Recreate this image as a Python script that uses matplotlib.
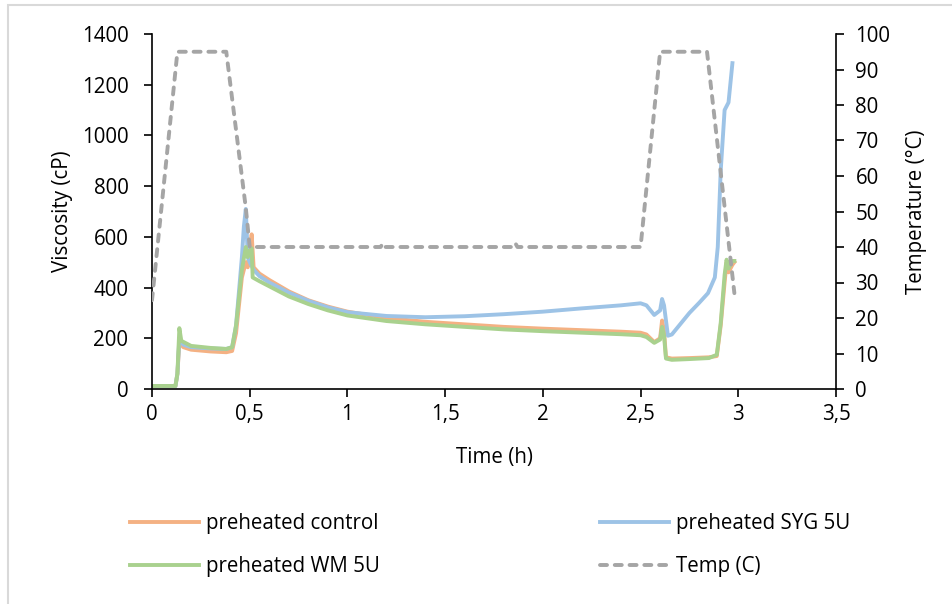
import matplotlib.pyplot as plt
from matplotlib.patches import Rectangle
from matplotlib.ticker import FuncFormatter, MultipleLocator

# viscosity profiles (cP) vs time (h)
t_control = [0, 0.12, 0.13, 0.14, 0.16, 0.2, 0.3, 0.38, 0.41, 0.43, 0.46, 0.48, 0.49, 0.50, 0.51,
             0.52, 0.55, 0.6, 0.7, 0.8, 0.9, 1.0, 1.2, 1.4, 1.6, 1.8, 2.0, 2.2, 2.4, 2.5, 2.53,
             2.57, 2.6, 2.61, 2.62, 2.63, 2.66, 2.75, 2.85, 2.89, 2.91, 2.93, 2.94, 2.95, 2.97, 2.98]
v_control = [12, 12, 60, 185, 165, 155, 148, 145, 150, 220, 440, 500, 480, 540, 610,
             480, 455, 430, 385, 350, 325, 305, 280, 265, 255, 245, 238, 232, 226, 222, 215,
             185, 200, 270, 230, 125, 120, 122, 125, 130, 250, 420, 500, 460, 490, 500]

t_syg = [0, 0.12, 0.13, 0.14, 0.16, 0.2, 0.3, 0.38, 0.41, 0.43, 0.46, 0.47, 0.48, 0.49, 0.50,
         0.52, 0.55, 0.6, 0.7, 0.8, 0.9, 1.0, 1.2, 1.4, 1.6, 1.8, 2.0, 2.2, 2.4, 2.5, 2.53,
         2.57, 2.6, 2.61, 2.62, 2.64, 2.66, 2.75, 2.8, 2.845, 2.88, 2.895, 2.91, 2.93, 2.95, 2.97]
v_syg = [12, 12, 60, 200, 175, 165, 160, 158, 165, 250, 520, 640, 710, 520, 500,
         470, 445, 420, 380, 348, 322, 303, 288, 283, 287, 295, 305, 318, 330, 338, 330,
         292, 310, 355, 330, 210, 215, 300, 340, 378, 440, 560, 860, 1100, 1130, 1285]

t_wm = [0, 0.12, 0.13, 0.14, 0.15, 0.2, 0.3, 0.38, 0.41, 0.43, 0.46, 0.48, 0.49, 0.50, 0.51,
        0.515, 0.55, 0.6, 0.7, 0.8, 0.9, 1.0, 1.2, 1.4, 1.6, 1.8, 2.0, 2.2, 2.4, 2.5, 2.53,
        2.57, 2.6, 2.61, 2.62, 2.63, 2.66, 2.75, 2.85, 2.89, 2.91, 2.93, 2.94, 2.95, 2.97, 2.98]
v_wm = [12, 12, 60, 240, 190, 170, 162, 158, 165, 250, 470, 560, 520, 545, 555,
        440, 425, 405, 365, 335, 310, 290, 268, 255, 245, 235, 228, 222, 216, 212, 205,
        182, 195, 245, 210, 120, 115, 118, 122, 135, 260, 450, 510, 475, 505, 505]

# temperature program (°C)
t_temp = [0, 0.13, 0.38, 0.48, 0.5, 1.17, 1.18, 1.19, 1.85, 1.86, 1.87, 2.5, 2.6, 2.84, 2.98]
v_temp = [25, 95, 95, 51, 40, 40, 41, 40, 40, 41, 40, 40, 95, 95, 27]

plt.rcParams['font.family'] = ['Open Sans', 'DejaVu Sans']
plt.rcParams['font.size'] = 14.8

fig = plt.figure(figsize=(9.52, 6.04), dpi=100)
ax = fig.add_axes([152 / 952, 1 - 389 / 604, (836 - 152) / 952, (389 - 34) / 604])
ax2 = ax.twinx()

# light frame around the chart area
fig.patches.append(Rectangle((8 / 952, -0.05), 1.1, 1 - 5 / 604 + 0.05,
                             transform=fig.transFigure, fill=False,
                             edgecolor='#d9d9d9', linewidth=1.5))

lw = 2.8
dash = (0, (1.8, 2.0))
l1, = ax.plot(t_control, v_control, color='#F4B183', lw=lw, label='preheated control')
l2, = ax.plot(t_syg, v_syg, color='#9DC3E6', lw=lw, label='preheated SYG 5U')
l3, = ax.plot(t_wm, v_wm, color='#A9D18E', lw=lw, label='preheated WM 5U')
l4, = ax2.plot(t_temp, v_temp, color='#A5A5A5', lw=lw, ls=dash,
               dash_capstyle='round', label='Temp (C)')

ax.set_xlim(0, 3.5)
ax.set_ylim(0, 1400)
ax2.set_ylim(0, 100)
ax.xaxis.set_major_locator(MultipleLocator(0.5))
ax.yaxis.set_major_locator(MultipleLocator(200))
ax2.yaxis.set_major_locator(MultipleLocator(10))
ax.xaxis.set_major_formatter(FuncFormatter(lambda x, p: ('%g' % x).replace('.', ',')))

for a in (ax, ax2):
    a.spines['top'].set_visible(False)
    for s in a.spines.values():
        s.set_linewidth(1.2)
ax.spines['right'].set_visible(False)
ax2.spines['left'].set_visible(False)
ax2.spines['bottom'].set_visible(False)

ax.tick_params(axis='y', direction='out', length=6, width=1.2, pad=11)
ax.tick_params(axis='x', direction='out', length=6, width=1.2, pad=5)
ax2.tick_params(axis='y', direction='out', length=6, width=1.2, pad=8)

ax.set_ylabel('Viscosity (cP)', labelpad=6)
ax2.set_ylabel('Temperature (°C)', labelpad=11)
ax.set_xlabel('Time (h)', labelpad=16)

leg_kw = dict(loc='center left', frameon=False, handlelength=3.35, handletextpad=0.35,
              labelspacing=1.05, borderpad=0, borderaxespad=0)
leg1 = fig.legend([l1, l3], ['preheated control', 'preheated WM 5U'],
                  bbox_to_anchor=(130 / 952, 1 - 545 / 604), **leg_kw)
leg2 = fig.legend([l2, l4], ['preheated SYG 5U', 'Temp (C)'],
                  bbox_to_anchor=(600 / 952, 1 - 545 / 604), **leg_kw)

fig.savefig('out.png', dpi=100)
